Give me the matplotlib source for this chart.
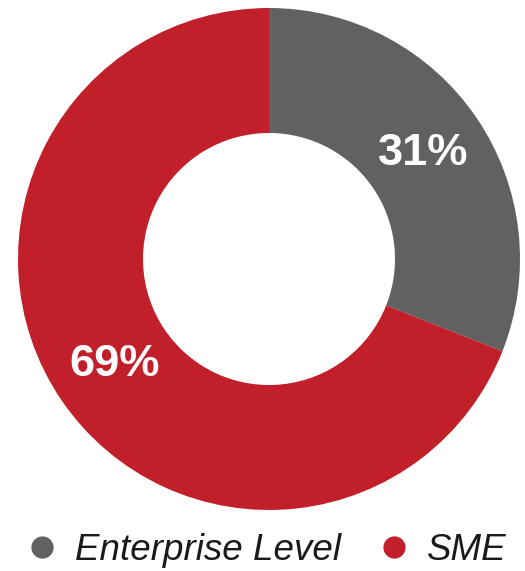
import matplotlib
matplotlib.use("Agg")
import matplotlib.pyplot as plt
from matplotlib.lines import Line2D

# Share of customers by segment
labels = ["Enterprise Level", "SME"]
shares = [31, 69]
colors = ["#616161", "#C11F2A"]

W, H = 525, 571
fig = plt.figure(figsize=(W / 100, H / 100), dpi=100)
fig.patch.set_facecolor("white")

# axes in pixel units so the donut lands where it does in the reference
ax = fig.add_axes([0, 0, 1, 1])
ax.set_xlim(0, W)
ax.set_ylim(0, H)
ax.axis("off")

wedges, texts, autotexts = ax.pie(
    shares, colors=colors, startangle=90, counterclock=False,
    center=(269, H - 259), radius=251,
    wedgeprops=dict(width=125, edgecolor="none"),
    autopct=lambda p: f"{p:.0f}%", pctdistance=0.745,
    textprops=dict(color="white", fontsize=32.5, fontweight="bold",
                   family="Liberation Sans"),
)
ax.set_xlim(0, W)
ax.set_ylim(0, H)
ax.set_aspect("auto")

handles = [Line2D([], [], marker="o", linestyle="none", markersize=15,
                  markerfacecolor=c, markeredgecolor=c) for c in colors]
leg = fig.legend(handles, labels, loc="center",
                 bbox_to_anchor=(265 / W, 1 - 550 / H),
                 ncol=2, frameon=False, handletextpad=0.4,
                 columnspacing=0.95, handlelength=1.0,
                 prop=dict(family="Liberation Sans", style="italic", size=26.5))
for t in leg.get_texts():
    t.set_color("#1a1a1a")

plt.savefig("out.png", dpi=100)
plt.close()
